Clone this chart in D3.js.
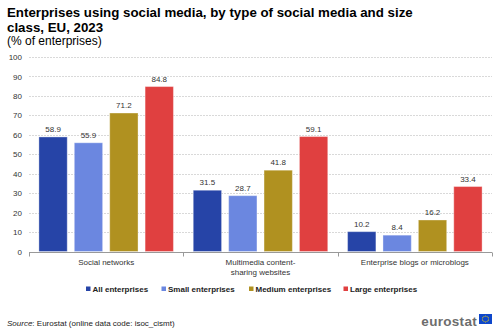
<!DOCTYPE html>
<html>
<head>
<meta charset="utf-8">
<script src="https://cdn.jsdelivr.net/npm/d3@7"></script>
<style>
  html, body { margin: 0; padding: 0; background: #fff; }
  svg { display: block; font-family: "Liberation Sans", Arial, sans-serif; }
</style>
</head>
<body>
<svg id="chart" width="500" height="331"></svg>
<script>
// Enterprises using social media, EU 2023 (% of enterprises)
const categories = [["Social networks"], ["Multimedia content-", "sharing websites"], ["Enterprise blogs or microblogs"]];
const seriesNames = ["All enterprises", "Small enterprises", "Medium enterprises", "Large enterprises"];
const allEnterprises = [58.9, 31.5, 10.2];
const smallEnterprises = [55.9, 28.7, 8.4];
const mediumEnterprises = [71.2, 41.8, 16.2];
const largeEnterprises = [84.8, 59.1, 33.4];
const yTicks = [0, 10, 20, 30, 40, 50, 60, 70, 80, 90, 100];
const colors = ["#2644A7", "#6B87E0", "#B09120", "#E04040"];

const seriesValues = [allEnterprises, smallEnterprises, mediumEnterprises, largeEnterprises];

const svg = d3.select("#chart");
const margin = { left: 29, right: 8, top: 57, bottom: 331 - 251.5 };
const W = 500, H = 331;
const labelSize = 8;

// Titles
svg.append("text").attr("x", 7).attr("y", 17)
  .attr("font-size", 13.3).attr("font-weight", "bold").attr("fill", "#000")
  .text("Enterprises using social media, by type of social media and size");
svg.append("text").attr("x", 7).attr("y", 32)
  .attr("font-size", 13.3).attr("font-weight", "bold").attr("fill", "#000")
  .text("class, EU, 2023");
svg.append("text").attr("x", 7).attr("y", 45)
  .attr("font-size", 12).attr("fill", "#000")
  .text("(% of enterprises)");

const x0 = d3.scaleBand().domain(d3.range(categories.length))
  .range([margin.left, W - margin.right]).paddingInner(0).paddingOuter(0);
const x1 = d3.scaleBand().domain(d3.range(seriesNames.length))
  .range([0, x0.bandwidth()]).paddingInner(0.2).paddingOuter(0.28);
const y = d3.scaleLinear().domain([0, 100]).range([H - margin.bottom, margin.top]);

// Gridlines
svg.append("g").selectAll("line").data(yTicks.filter(d => d > 0)).join("line")
  .attr("x1", margin.left).attr("x2", W - margin.right)
  .attr("y1", d => Math.round(y(d)) + 0.5).attr("y2", d => Math.round(y(d)) + 0.5)
  .attr("stroke", "#d9d9d9").attr("stroke-width", 1).attr("stroke-dasharray", "2,1");

// Y axis labels
const yAxis = d3.axisLeft(y).tickValues(yTicks).tickSize(0).tickPadding(7);
const gy = svg.append("g").attr("transform", `translate(${margin.left},0)`).call(yAxis);
gy.select(".domain").remove();
gy.selectAll("text").attr("font-size", labelSize).attr("fill", "#333").attr("font-family", "Liberation Sans, Arial, sans-serif");

// Bars
const groups = svg.append("g").selectAll("g").data(categories).join("g")
  .attr("transform", (d, i) => `translate(${x0(i)},0)`);
groups.selectAll("rect").data((d, i) => seriesValues.map((s, k) => ({ k, v: s[i] }))).join("rect")
  .attr("x", d => x1(d.k))
  .attr("width", x1.bandwidth())
  .attr("y", d => y(d.v))
  .attr("height", d => y(0) - y(d.v))
  .attr("fill", d => colors[d.k])
  .attr("stroke", "rgba(255,255,255,0.35)").attr("stroke-width", 1);
groups.selectAll("text.val").data((d, i) => seriesValues.map((s, k) => ({ k, v: s[i] }))).join("text")
  .attr("class", "val")
  .attr("x", d => x1(d.k) + x1.bandwidth() / 2)
  .attr("y", d => y(d.v) - 5)
  .attr("text-anchor", "middle").attr("font-size", labelSize).attr("fill", "#333")
  .text(d => d3.format(".1f")(d.v));

// X axis
const baseY = Math.round(y(0)) + 0.5;
svg.append("line").attr("x1", margin.left).attr("x2", W - margin.right)
  .attr("y1", baseY).attr("y2", baseY).attr("stroke", "#999");
const boundaries = d3.range(categories.length + 1).map(i => i < categories.length ? x0(i) : x0(i - 1) + x0.bandwidth());
svg.append("g").selectAll("line").data(boundaries).join("line")
  .attr("x1", d => Math.round(d) + 0.5).attr("x2", d => Math.round(d) + 0.5)
  .attr("y1", baseY).attr("y2", baseY + 4).attr("stroke", "#999");
svg.append("g").selectAll("text").data(categories).join("text")
  .attr("x", (d, i) => x0(i) + x0.bandwidth() / 2)
  .attr("text-anchor", "middle").attr("font-size", labelSize).attr("fill", "#333")
  .each(function(lines) {
    d3.select(this).selectAll("tspan").data(lines).join("tspan")
      .attr("x", d3.select(this).attr("x"))
      .attr("y", (l, j) => baseY + 12.5 + j * 9.5)
      .text(l => l);
  });

// Legend
const legendX = [86, 161.5, 249, 343.5];
const lg = svg.append("g").selectAll("g").data(seriesNames).join("g")
  .attr("transform", (d, i) => `translate(${legendX[i]},${292})`);
lg.append("rect").attr("x", 0).attr("y", -5.5).attr("width", 4.5).attr("height", 4.5)
  .attr("fill", (d, i) => colors[i]);
lg.append("text").attr("x", 6.5).attr("y", 0).attr("font-size", labelSize).attr("font-weight", "bold")
  .attr("fill", "#222").text(d => d);

// Source
const src = svg.append("text").attr("x", 7).attr("y", 326).attr("font-size", labelSize).attr("fill", "#222");
src.append("tspan").attr("font-style", "italic").text("Source");
src.append("tspan").text(": Eurostat (online data code: isoc_cismt)");

// Logo
svg.append("text").attr("x", 477).attr("y", 326).attr("text-anchor", "end")
  .attr("font-size", 13.5).attr("font-weight", "bold").attr("fill", "#6d6d6d")
  .attr("letter-spacing", 0.3).text("eurostat");
const flag = svg.append("g").attr("transform", "translate(479,314)");
flag.append("rect").attr("width", 13).attr("height", 10).attr("fill", "#0E47CB");
flag.selectAll("circle").data(d3.range(12)).join("circle")
  .attr("cx", d => 6.5 + 3 * Math.cos(d * Math.PI / 6))
  .attr("cy", d => 5 + 3 * Math.sin(d * Math.PI / 6))
  .attr("r", 0.5).attr("fill", "#FFDD00");
</script>
</body>
</html>
